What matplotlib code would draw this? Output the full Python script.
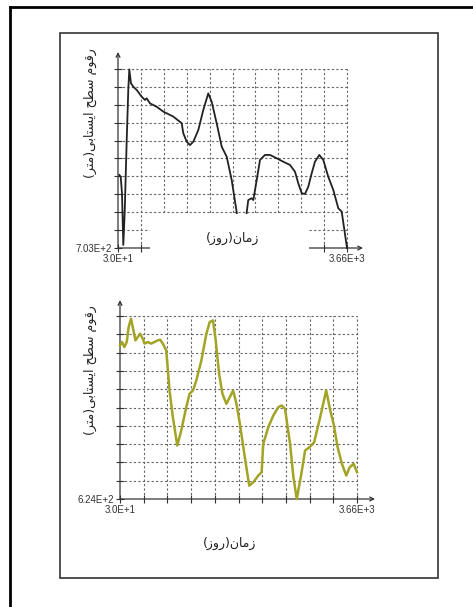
import numpy as np
import matplotlib
matplotlib.use('Agg')
import matplotlib.pyplot as plt
from matplotlib.patches import Rectangle
from matplotlib.lines import Line2D

# top chart: water level (m) vs time (days)
top_days = [51, 73, 93, 114, 136, 168, 193, 209, 236, 273, 326, 406, 458, 485, 537,
            643, 748, 907, 1040, 1065, 1119, 1171, 1224, 1303, 1382, 1461, 1515, 1594,
            1674, 1753, 1832, 1912, 1953, 2027, 2070, 2095, 2149, 2175, 2229, 2281, 2360,
            2439, 2546, 2650, 2756, 2836, 2888, 2942, 2994, 3046, 3100, 3152, 3221, 3284,
            3363, 3443, 3522, 3576, 3660]
top_level = [707.08, 706.98, 706.06, 703.17, 704.96, 709.03, 711.83, 712.98, 712.20, 712.01,
             711.83, 711.45, 711.27, 711.36, 711.08, 710.89, 710.62, 710.34, 709.97, 709.41,
             708.94, 708.75, 708.94, 709.59, 710.71, 711.64, 711.17, 709.97, 708.66, 708.10,
             706.80, 704.99, 703.0, 703.0, 704.99, 705.68, 705.78, 705.68, 706.80, 707.92,
             708.20, 708.20, 708.01, 707.82, 707.64, 707.26, 706.61, 706.06, 706.02, 706.42,
             707.17, 707.82, 708.20, 707.92, 706.98, 706.24, 705.22, 705.03, 703.0]

# bottom chart
bot_days = [30, 61, 97, 133, 163, 199, 235, 266, 302, 338, 379, 404, 456, 507, 558, 609,
            645, 686, 738, 789, 840, 907, 968, 1045, 1096, 1148, 1199, 1276, 1353, 1404,
            1455, 1496, 1548, 1599, 1660, 1712, 1763, 1814, 1866, 1942, 2009, 2071, 2147,
            2199, 2224, 2301, 2378, 2455, 2506, 2558, 2583, 2635, 2686, 2737, 2799, 2865,
            2932, 3004, 3096, 3188, 3250, 3301, 3363, 3429, 3496, 3547, 3609, 3660]
bot_level = [632.39, 632.58, 632.30, 632.58, 633.40, 633.85, 633.22, 632.67, 632.85, 633.03,
             632.76, 632.49, 632.58, 632.49, 632.58, 632.67, 632.70, 632.49, 632.12, 629.93,
             628.47, 626.92, 627.74, 629.02, 629.75, 629.93, 630.48, 631.57, 633.03, 633.67,
             633.76, 632.67, 630.84, 629.75, 629.20, 629.57, 629.93, 629.20, 628.11, 626.28,
             624.73, 624.91, 625.28, 625.46, 627.01, 627.92, 628.56, 629.02, 629.11, 628.93,
             628.29, 627.01, 625.19, 624.00, 625.19, 626.65, 626.83, 627.10, 628.47, 629.93,
             628.84, 628.11, 626.83, 625.92, 625.28, 625.73, 625.92, 625.46]

x_min, x_max = 30, 3660
top_min, bot_min = 703, 624
x_labels = ['3.0E+1', '3.66E+3']
top_ylabel = '7.03E+2'
bot_ylabel = '6.24E+2'

# arabic labels given in visual order with presentation forms
# "زمان(روز)" and "رقوم سطح ایستابی(متر)"
time_label = '(\uFEAF\uFEED\uFEAD)\uFEE5\uFE8E\uFEE3\uFEAF'
level_label = ('(\uFEAE\uFE98\uFEE3)\uFEF0\uFE91\uFE8E\uFE98\uFEB4\uFEF3\uFE8D'
               ' \uFEA2\uFEC4\uFEB3 \uFEE1\uFEEE\uFED7\uFEAD')

W, H = 473, 607
fig = plt.figure(figsize=(W / 100, H / 100), dpi=100)
fig.patch.set_facecolor('white')


def box(l, t, r, b):
    return [l / W, 1 - b / H, (r - l) / W, (b - t) / H]


def chart(pos, days, level, y0, color, lw, xtip, ytip, ylab):
    ax = fig.add_axes(pos)
    ax.set_xlim(x_min, x_max)
    ax.set_ylim(y0, y0 + 10)
    ax.patch.set_alpha(0)
    for s in ax.spines.values():
        s.set_visible(False)
    xt = np.linspace(x_min, x_max, 11)
    yt = np.arange(y0, y0 + 11)
    for v in yt[1:]:
        ax.axhline(v, color='#666666', lw=0.8, ls=(0, (2, 2)), clip_on=False, zorder=1)
    for v in xt[1:]:
        ax.axvline(v, color='#666666', lw=0.8, ls=(0, (2, 2)), clip_on=False, zorder=1)
    ax.set_xticks(xt)
    ax.set_xticklabels([x_labels[0]] + [''] * 9 + [x_labels[1]])
    ax.set_yticks(yt)
    ax.set_yticklabels([ylab] + [''] * 10)
    ax.tick_params(direction='inout', length=6, width=0.8, color='#333333',
                   labelsize=7, labelcolor='#333333', pad=1.5)
    for t in ax.get_xticklabels() + ax.get_yticklabels():
        t.set_fontfamily('Liberation Sans')
    arrow = dict(arrowstyle='->', color='#333333', lw=0.9, shrinkA=0, shrinkB=0,
                 mutation_scale=7)
    ax.annotate('', xy=(xtip, 0), xytext=(0, 0), xycoords='axes fraction',
                arrowprops=arrow, annotation_clip=False)
    ax.annotate('', xy=(0, ytip), xytext=(0, 0), xycoords='axes fraction',
                arrowprops=arrow, annotation_clip=False)
    ax.plot(days, level, color=color, lw=lw, clip_on=False, zorder=3,
            solid_joinstyle='round')
    return ax


ax1 = chart(box(118, 69, 347, 248), top_days, top_level, top_min,
            '#222222', 1.3, 1.07, 1.095, top_ylabel)
ax2 = chart(box(120, 316, 357, 499), bot_days, bot_level, bot_min,
            '#a3a326', 1.8, 1.076, 1.087, bot_ylabel)

# frames, masks and labels in pixel coordinates
ov = fig.add_axes([0, 0, 1, 1])
ov.set_xlim(0, W)
ov.set_ylim(H, 0)
ov.axis('off')
ov.patch.set_alpha(0)
ov.set_zorder(10)

ov.add_line(Line2D([10, 10], [7, H], color='black', lw=2))
ov.add_line(Line2D([10, W], [7, 7], color='black', lw=2))
ov.add_patch(Rectangle((60, 33), 378, 545, fill=False, ec='#333333', lw=1.2))

ov.add_patch(Rectangle((150, 214), 159, 42, fc='white', ec='none'))
ov.text(233, 238, time_label, ha='center', va='center', fontsize=9,
        family='DejaVu Sans', color='#222222')
ov.text(230, 543, time_label, ha='center', va='center', fontsize=9,
        family='DejaVu Sans', color='#222222')
ov.text(90, 113, level_label, ha='center', va='center', rotation=90, fontsize=9,
        family='DejaVu Sans', color='#222222')
ov.text(90, 370, level_label, ha='center', va='center', rotation=90, fontsize=9,
        family='DejaVu Sans', color='#222222')

fig.savefig('out.png', dpi=100, facecolor='white')
